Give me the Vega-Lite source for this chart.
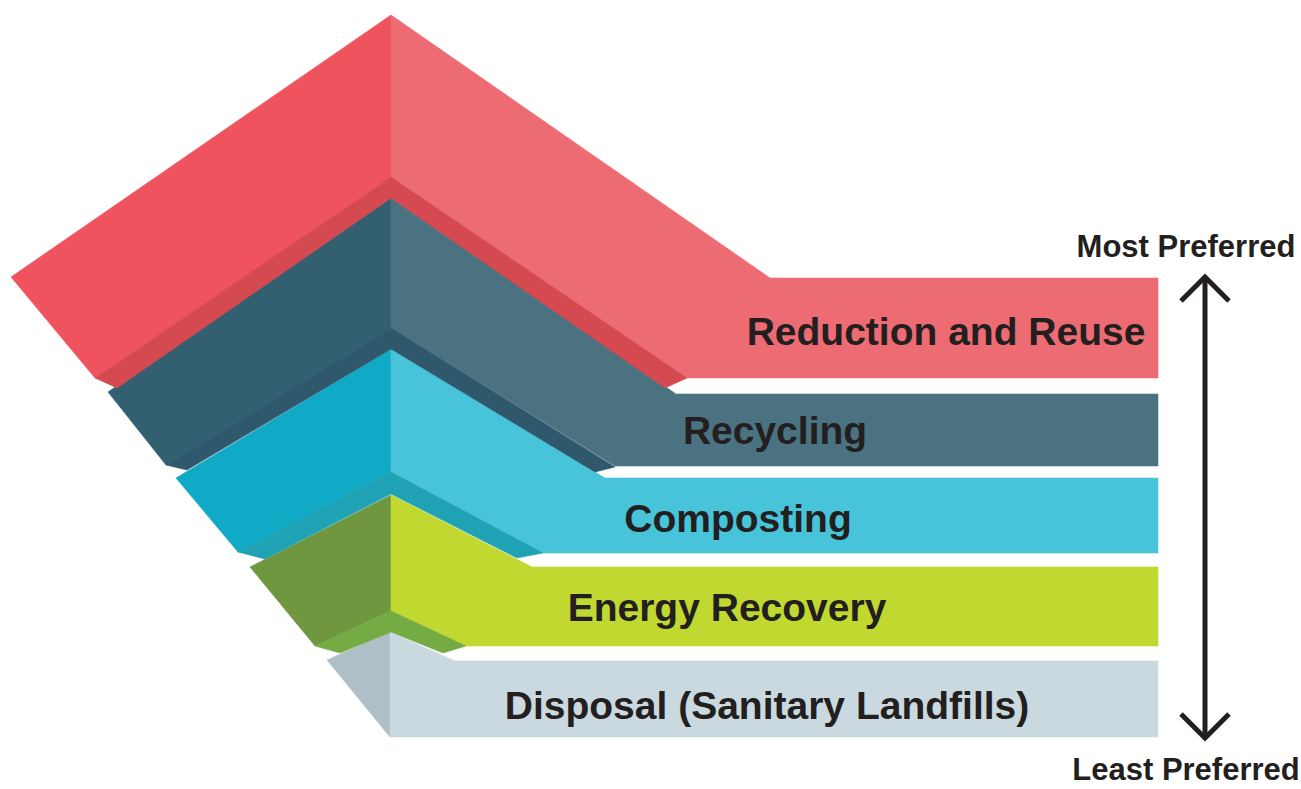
{
  "$schema": "https://vega.github.io/schema/vega-lite/v6.json",
  "width": 1301,
  "height": 789,
  "autosize": "none",
  "padding": 0,
  "background": "white",
  "config": {"view": {"stroke": null}},
  "datasets": {
    "faces": [
      {"face": "p01", "o": 1, "x": 390, "y": 632}, {"face": "p01", "o": 2, "x": 327, "y": 660}, {"face": "p01", "o": 3, "x": 390, "y": 737},
      {"face": "p02", "o": 1, "x": 390, "y": 632}, {"face": "p02", "o": 2, "x": 455, "y": 661}, {"face": "p02", "o": 3, "x": 1158, "y": 661}, {"face": "p02", "o": 4, "x": 1158, "y": 737}, {"face": "p02", "o": 5, "x": 390, "y": 737},
      {"face": "p03", "o": 1, "x": 391, "y": 495}, {"face": "p03", "o": 2, "x": 250, "y": 567}, {"face": "p03", "o": 3, "x": 315, "y": 646}, {"face": "p03", "o": 4, "x": 391, "y": 611},
      {"face": "p04", "o": 1, "x": 391, "y": 495}, {"face": "p04", "o": 2, "x": 532, "y": 567}, {"face": "p04", "o": 3, "x": 1158, "y": 567}, {"face": "p04", "o": 4, "x": 1158, "y": 646}, {"face": "p04", "o": 5, "x": 466, "y": 646}, {"face": "p04", "o": 6, "x": 391, "y": 611},
      {"face": "p05", "o": 1, "x": 315, "y": 646}, {"face": "p05", "o": 2, "x": 391, "y": 611}, {"face": "p05", "o": 3, "x": 466, "y": 646}, {"face": "p05", "o": 4, "x": 443, "y": 653}, {"face": "p05", "o": 5, "x": 391, "y": 632}, {"face": "p05", "o": 6, "x": 340, "y": 653},
      {"face": "p06", "o": 1, "x": 391, "y": 349}, {"face": "p06", "o": 2, "x": 176, "y": 478}, {"face": "p06", "o": 3, "x": 238, "y": 552}, {"face": "p06", "o": 4, "x": 391, "y": 472},
      {"face": "p07", "o": 1, "x": 391, "y": 349}, {"face": "p07", "o": 2, "x": 605, "y": 478}, {"face": "p07", "o": 3, "x": 1158, "y": 478}, {"face": "p07", "o": 4, "x": 1158, "y": 553}, {"face": "p07", "o": 5, "x": 543, "y": 553}, {"face": "p07", "o": 6, "x": 391, "y": 472},
      {"face": "p08", "o": 1, "x": 238, "y": 552}, {"face": "p08", "o": 2, "x": 391, "y": 472}, {"face": "p08", "o": 3, "x": 543, "y": 553}, {"face": "p08", "o": 4, "x": 517, "y": 558}, {"face": "p08", "o": 5, "x": 391, "y": 494}, {"face": "p08", "o": 6, "x": 265, "y": 559},
      {"face": "p09", "o": 1, "x": 391, "y": 198}, {"face": "p09", "o": 2, "x": 108, "y": 392}, {"face": "p09", "o": 3, "x": 166, "y": 465}, {"face": "p09", "o": 4, "x": 391, "y": 328},
      {"face": "p10", "o": 1, "x": 391, "y": 198}, {"face": "p10", "o": 2, "x": 676, "y": 394}, {"face": "p10", "o": 3, "x": 1158, "y": 394}, {"face": "p10", "o": 4, "x": 1158, "y": 466}, {"face": "p10", "o": 5, "x": 615, "y": 466}, {"face": "p10", "o": 6, "x": 391, "y": 328},
      {"face": "p11", "o": 1, "x": 166, "y": 465}, {"face": "p11", "o": 2, "x": 391, "y": 328}, {"face": "p11", "o": 3, "x": 615, "y": 467}, {"face": "p11", "o": 4, "x": 595, "y": 472}, {"face": "p11", "o": 5, "x": 391, "y": 349}, {"face": "p11", "o": 6, "x": 187, "y": 470},
      {"face": "p12", "o": 1, "x": 391, "y": 15}, {"face": "p12", "o": 2, "x": 11, "y": 277}, {"face": "p12", "o": 3, "x": 95, "y": 378}, {"face": "p12", "o": 4, "x": 391, "y": 177},
      {"face": "p13", "o": 1, "x": 391, "y": 15}, {"face": "p13", "o": 2, "x": 770, "y": 278}, {"face": "p13", "o": 3, "x": 1158, "y": 278}, {"face": "p13", "o": 4, "x": 1158, "y": 378}, {"face": "p13", "o": 5, "x": 687, "y": 378}, {"face": "p13", "o": 6, "x": 391, "y": 177},
      {"face": "p14", "o": 1, "x": 95, "y": 378}, {"face": "p14", "o": 2, "x": 391, "y": 177}, {"face": "p14", "o": 3, "x": 687, "y": 378}, {"face": "p14", "o": 4, "x": 665, "y": 388}, {"face": "p14", "o": 5, "x": 391, "y": 198}, {"face": "p14", "o": 6, "x": 117, "y": 388}
    ],
    "labels": [
      {"label": "Reduction and Reuse", "x": 946, "y": 345},
      {"label": "Recycling", "x": 775, "y": 444},
      {"label": "Composting", "x": 738, "y": 532},
      {"label": "Energy Recovery", "x": 727, "y": 621},
      {"label": "Disposal (Sanitary Landfills)", "x": 767, "y": 719}
    ],
    "ends": [
      {"label": "Most Preferred", "x": 1186, "y": 257},
      {"label": "Least Preferred", "x": 1186, "y": 780}
    ],
    "shaft": [{"x": 1205, "y": 277, "y2": 738}],
    "heads": [
      {"head": "up", "o": 1, "x": 1181, "y": 301}, {"head": "up", "o": 2, "x": 1205, "y": 277}, {"head": "up", "o": 3, "x": 1229, "y": 301},
      {"head": "down", "o": 1, "x": 1181, "y": 714}, {"head": "down", "o": 2, "x": 1205, "y": 738}, {"head": "down", "o": 3, "x": 1229, "y": 714}
    ]
  },
  "layer": [
    {
      "data": {"name": "faces"},
      "mark": {"type": "line", "strokeWidth": 0.6, "interpolate": "linear-closed"},
      "encoding": {
        "x": {"field": "x", "type": "quantitative", "scale": {"domain": [0, 1301], "nice": false, "zero": false}, "axis": null},
        "y": {"field": "y", "type": "quantitative", "scale": {"domain": [0, 789], "reverse": true, "nice": false, "zero": false}, "axis": null},
        "order": {"field": "o", "type": "quantitative"},
        "detail": {"field": "face", "type": "nominal"},
        "fill": {"field": "face", "type": "nominal", "legend": null,
          "scale": {"domain": ["p01","p02","p03","p04","p05","p06","p07","p08","p09","p10","p11","p12","p13","p14"],
                    "range": ["#AEBFC7","#CAD9DF","#6E9740","#C0D830","#74AB42","#10AAC7","#48C4DA","#1FA3B4","#336071","#4A7280","#2F586D","#EF535E","#ED6B73","#D54A51"]}},
        "stroke": {"field": "face", "type": "nominal", "legend": null,
          "scale": {"domain": ["p01","p02","p03","p04","p05","p06","p07","p08","p09","p10","p11","p12","p13","p14"],
                    "range": ["#AEBFC7","#CAD9DF","#6E9740","#C0D830","#74AB42","#10AAC7","#48C4DA","#1FA3B4","#336071","#4A7280","#2F586D","#EF535E","#ED6B73","#D54A51"]}}
      }
    },
    {
      "data": {"name": "labels"},
      "mark": {"type": "text", "font": "Liberation Sans", "fontWeight": "bold", "fontSize": 39, "align": "center", "baseline": "alphabetic", "color": "#231F20"},
      "encoding": {
        "x": {"field": "x", "type": "quantitative"},
        "y": {"field": "y", "type": "quantitative"},
        "text": {"field": "label"}
      }
    },
    {
      "data": {"name": "ends"},
      "mark": {"type": "text", "font": "Liberation Sans", "fontWeight": "bold", "fontSize": 31, "align": "center", "baseline": "alphabetic", "color": "#231F20"},
      "encoding": {
        "x": {"field": "x", "type": "quantitative"},
        "y": {"field": "y", "type": "quantitative"},
        "text": {"field": "label"}
      }
    },
    {
      "data": {"name": "shaft"},
      "mark": {"type": "rule", "strokeWidth": 5, "color": "#231F20"},
      "encoding": {
        "x": {"field": "x", "type": "quantitative"},
        "y": {"field": "y", "type": "quantitative"},
        "y2": {"field": "y2"}
      }
    },
    {
      "data": {"name": "heads"},
      "mark": {"type": "line", "strokeWidth": 5, "color": "#231F20", "strokeJoin": "miter", "strokeCap": "butt"},
      "encoding": {
        "x": {"field": "x", "type": "quantitative"},
        "y": {"field": "y", "type": "quantitative"},
        "order": {"field": "o", "type": "quantitative"},
        "detail": {"field": "head", "type": "nominal"}
      }
    }
  ]
}
